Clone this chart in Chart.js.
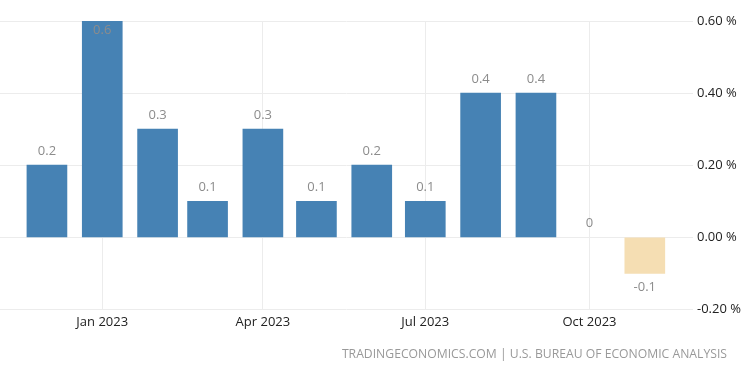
<!DOCTYPE html>
<html>
<head>
<meta charset="utf-8">
<script src="https://cdn.jsdelivr.net/npm/chart.js@4/dist/chart.umd.min.js"></script>
<style>
  html, body { margin: 0; padding: 0; background: #fff; }
  #wrap { position: relative; width: 750px; height: 375px; }
  #source {
    position: absolute; right: 23px; top: 345px;
    font-family: "Open Sans", sans-serif; font-size: 12.2px; color: #999;
    white-space: nowrap;
  }
</style>
</head>
<body>
<div id="wrap">
  <canvas id="chart" width="750" height="375"></canvas>
  <div id="source">TRADINGECONOMICS.COM | U.S. BUREAU OF ECONOMIC ANALYSIS</div>
</div>
<script>
const months = ['Dec 2022', 'Jan 2023', 'Feb 2023', 'Mar 2023', 'Apr 2023', 'May 2023',
                'Jun 2023', 'Jul 2023', 'Aug 2023', 'Sep 2023', 'Oct 2023', 'Nov 2023'];
const values = [0.2, 0.6, 0.3, 0.1, 0.3, 0.1, 0.2, 0.1, 0.4, 0.4, 0, -0.1];
const tickLabels = ['Jan 2023', 'Apr 2023', 'Jul 2023', 'Oct 2023'];
const yTicks = [-0.2, 0, 0.2, 0.4, 0.6];

const blue = '#4682b4';
const tan = '#f5deb3';
const DAY = 86400000;

// days since the first month, so bars sit on a real time line
function dayOf(label) {
    return Math.round((Date.parse('1 ' + label + ' UTC') - Date.parse('1 ' + months[0] + ' UTC')) / DAY);
}

// value labels above / below each bar
const barLabels = {
    id: 'barLabels',
    afterDatasetsDraw(chart) {
        const ctx = chart.ctx;
        const area = chart.chartArea;
        const meta = chart.getDatasetMeta(0);
        ctx.save();
        ctx.font = '13px "Open Sans", sans-serif';
        ctx.fillStyle = '#8c8c8c';
        ctx.textAlign = 'center';
        ctx.textBaseline = 'middle';
        meta.data.forEach((bar, i) => {
            let v = values[i];
            let y;
            if (v >= 0) {
                y = bar.y - 14;
                if (y < area.top + 4) y = bar.y + 9;
            } else {
                y = bar.y + 14;
            }
            ctx.fillText(String(v), bar.x, y);
        });
        ctx.restore();
    }
};

const data = {
    datasets: [{
        data: values.map((v, i) => ({ x: dayOf(months[i]), y: v })),
        backgroundColor: values.map(v => v < 0 ? tan : (v === 0 ? 'rgba(0,0,0,0)' : blue)),
        barThickness: 40
    }]
};

const config = {
    type: 'bar',
    data: data,
    plugins: [barLabels],
    options: {
        responsive: false,
        animation: false,
        layout: { padding: { top: 21, bottom: 40, left: 0, right: 0 } },
        plugins: {
            legend: { display: false },
            tooltip: { enabled: false }
        },
        scales: {
            x: {
                type: 'linear',
                offset: false,
                min: -26.3,
                max: 362,
                afterBuildTicks: (scale) => {
                    scale.ticks = tickLabels.map(l => ({ value: dayOf(l), label: l }));
                },
                ticks: {
                    autoSkip: false,
                    maxRotation: 0,
                    padding: 5,
                    color: '#222',
                    font: { family: 'Open Sans', size: 13 },
                    callback: (v) => tickLabels.find(l => dayOf(l) === v)
                },
                grid: { color: '#ececec', drawTicks: false, offset: false },
                border: { display: false }
            },
            y: {
                position: 'right',
                min: -0.2,
                max: 0.6,
                afterBuildTicks: (scale) => {
                    scale.ticks = yTicks.map(v => ({ value: v }));
                },
                afterFit: (scale) => { scale.width = 57; },
                ticks: {
                    padding: 4,
                    color: '#222',
                    font: { family: 'Open Sans', size: 13 },
                    callback: (v) => v.toFixed(2) + ' %'
                },
                grid: { color: '#ececec', drawTicks: false },
                border: { display: false }
            }
        }
    }
};

new Chart(document.getElementById('chart').getContext('2d'), config);
</script>
</body>
</html>
